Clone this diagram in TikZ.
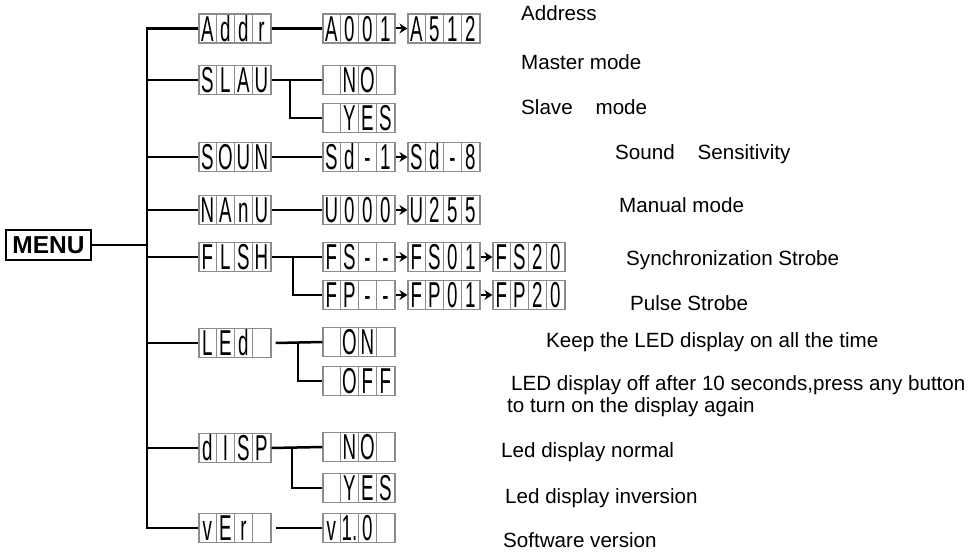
\documentclass[tikz,border=0pt]{standalone}
\usepackage{fontspec}
\setmainfont{Liberation Sans}
\newfontfamily\segfont[FakeStretch=0.52]{Liberation Sans}
\usetikzlibrary{arrows.meta}
\definecolor{cellgray}{gray}{0.55}
\tikzset{
  dispbox/.style={draw=cellgray, line width=1.2pt, rectangle, minimum width=72pt, minimum height=29pt, inner sep=0pt},
  celldiv/.style={draw=cellgray, line width=1pt},
  seg/.style={font=\segfont\fontsize{36}{36}\selectfont, inner sep=0pt, text height=25.7pt, text depth=0pt},
  conn/.style={line width=2.5pt, black},
  arr/.style={line width=2pt, -{Stealth[length=8pt,width=10pt]}},
  lbl/.style={font=\fontsize{20.6}{24}\selectfont, anchor=base west, inner sep=0pt},
  menubox/.style={draw, line width=2.5pt, minimum width=85pt, minimum height=30pt, inner sep=0pt, font=\bfseries\fontsize{24.5}{26}\selectfont}
}
\newcommand\segbox[6]{%
  \node[dispbox] (#1) at (#2) {};
  \draw[celldiv] ([xshift=18pt]#1.north west) -- ([xshift=18pt]#1.south west);
  \draw[celldiv] ([xshift=36pt]#1.north west) -- ([xshift=36pt]#1.south west);
  \draw[celldiv] ([xshift=54pt]#1.north west) -- ([xshift=54pt]#1.south west);
  \node[seg] (#1-1) at ([xshift=9pt]#1.west) {#3};
  \node[seg] (#1-2) at ([xshift=27pt]#1.west) {#4};
  \node[seg] (#1-3) at ([xshift=45pt]#1.west) {#5};
  \node[seg] (#1-4) at ([xshift=63pt]#1.west) {#6};
}
\begin{document}
\begin{tikzpicture}[x=1pt,y=-1pt]
\useasboundingbox (0,0) rectangle (976,553);
% menu
\node[menubox] (menu) at (48.5,245) {MENU};
% level 1
\segbox{addr}{235,28.5}{A}{d}{d}{r}
\segbox{slau}{235,80}{S}{L}{A}{U}
\segbox{soun}{235,157}{S}{O}{U}{N}
\segbox{manu}{235,210}{N}{A}{n}{U}
\segbox{flsh}{235,257}{F}{L}{S}{H}
\segbox{led}{235,343}{L}{E}{d}{}
\segbox{disp}{235,448}{d}{I}{S}{P}
\segbox{ver}{235,528}{v}{E}{r}{}
% level 2
\segbox{a001}{359,28.5}{A}{0}{0}{1}
\segbox{no1}{359,80}{}{N}{O}{}
\segbox{yes1}{359,118}{}{Y}{E}{S}
\segbox{sd1}{359,157}{S}{d}{-}{1}
\segbox{u000}{359,210}{U}{0}{0}{0}
\segbox{fsx}{359,257}{F}{S}{-}{-}
\segbox{fpx}{359,295}{F}{P}{-}{-}
\segbox{on}{359,342}{}{O}{N}{}
\segbox{off}{359,381}{}{O}{F}{F}
\segbox{no2}{359,447}{}{N}{O}{}
\segbox{yes2}{359,488}{}{Y}{E}{S}
\segbox{v10}{359,528}{v}{1.}{0}{}
% level 3
\segbox{a512}{444,28.5}{A}{5}{1}{2}
\segbox{sd8}{444,157}{S}{d}{-}{8}
\segbox{u255}{444,210}{U}{2}{5}{5}
\segbox{fs01}{444,257}{F}{S}{0}{1}
\segbox{fp01}{444,295}{F}{P}{0}{1}
% level 4
\segbox{fs20}{529,257}{F}{S}{2}{0}
\segbox{fp20}{529,295}{F}{P}{2}{0}
% bus
\coordinate (bus) at (147,0);
\draw[conn, line join=miter] (addr.west) -| (ver.west -| bus) -- (ver.west);
\foreach \n in {slau,soun,manu,flsh,led,disp} \draw[conn] (\n.west -| bus) -- (\n.west);
\draw[conn] (menu.east) -- (menu.east -| bus);
% level 1 -> level 2
\draw[conn] (addr.east) -- (a001.west);
\draw[conn] (soun.east) -- (sd1.west);
\draw[conn] (manu.east) -- (u000.west);
\draw[conn] ([xshift=4pt]ver.east) -- (v10.west);
\coordinate (fk1) at (290,0);
\coordinate (fk2) at (293,0);
\coordinate (fk3) at (298,0);
\coordinate (fk4) at (292,0);
\draw[conn] (slau.east) -- (no1.west);
\draw[conn, line join=miter] (slau.east -| fk1) |- (yes1.west);
\draw[conn] (flsh.east) -- (fsx.west);
\draw[conn, line join=miter] (flsh.east -| fk2) |- (fpx.west);
\draw[conn] ([xshift=4pt]led.east) -- (on.west);
\draw[conn, line join=miter] (led.east -| fk3) |- (off.west);
\draw[conn] (disp.east) -- (no2.west);
\draw[conn, line join=miter] (disp.east -| fk4) |- (yes2.west);
% arrows
\draw[arr] (a001.east) -- (a512.west);
\draw[arr] (sd1.east) -- (sd8.west);
\draw[arr] (u000.east) -- (u255.west);
\draw[arr] (fsx.east) -- (fs01.west);
\draw[arr] (fs01.east) -- (fs20.west);
\draw[arr] (fpx.east) -- (fp01.west);
\draw[arr] (fp01.east) -- (fp20.west);
% labels
\node[lbl] (t1) at (521,21) {Address};
\node[lbl] (t2) at (521,70) {Master mode};
\node[lbl] (t3) at (521,115) {Slave~~~~mode};
\node[lbl] (t4) at (615,160) {Sound~~~~Sensitivity};
\node[lbl] (t5) at (619,213) {Manual mode};
\node[lbl] (t6) at (626,265) {Synchronization Strobe};
\node[lbl] (t7) at (630,310) {Pulse Strobe};
\node[lbl] (t8) at (546,347) {Keep the LED display on all the time};
\node[lbl] (t9) at (511,390) {LED display off after 10 seconds,press any button};
\node[lbl] (t10) at (507,412) {to turn on the display again};
\node[lbl] (t11) at (501,457) {Led display normal};
\node[lbl] (t12) at (505,503) {Led display inversion};
\node[lbl] (t13) at (503,547) {Software version};
\end{tikzpicture}
\end{document}
